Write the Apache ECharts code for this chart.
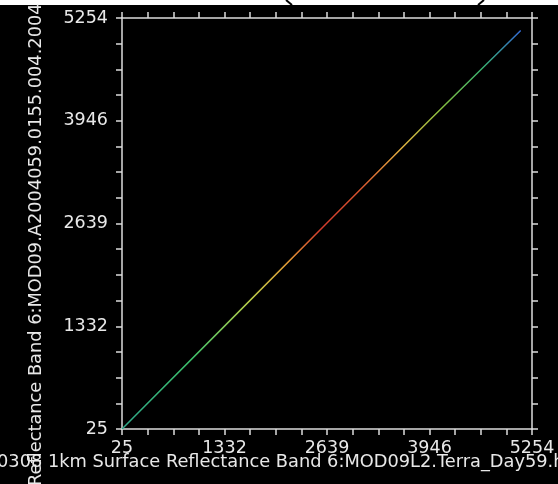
<!DOCTYPE html>
<html>
<head>
<meta charset="utf-8">
<script src="https://cdn.jsdelivr.net/npm/echarts@6/dist/echarts.min.js"></script>
<style>
  html, body { margin: 0; padding: 0; background: #000; }
  #chart { width: 558px; height: 484px; }
</style>
</head>
<body>
<div id="chart"></div>
<script>
// axis ticks (same scale on both axes)
const tickValues = [25, 1332.25, 2639.5, 3946.75, 5254];
const tickLabels = ["25", "1332", "2639", "3946", "5254"];

// scatter of band 6 vs band 6 -> a straight diagonal
const lineX = [25, 1332, 2639, 3946, 5110];
const lineY = [25, 1334, 2645, 3952, 5095];

// colour along the line (density colouring)
const gradStops = [0, 0.18, 0.32, 0.42, 0.5, 0.6, 0.7, 0.8, 0.9, 1];
const gradColors = ["#2fa88c", "#3cbf6a", "#b7cf4a", "#e49a35", "#d23a2c",
                    "#d8552e", "#e0b040", "#86c040", "#38b070", "#3366dd"];

const minorTicks = [];
for (let i = 0; i < tickValues.length - 1; i++) {
    const step = (tickValues[i + 1] - tickValues[i]) / 4;
    for (let k = 0; k < 4; k++) minorTicks.push(tickValues[i] + k * step);
}
minorTicks.push(tickValues[tickValues.length - 1]);

const font = "DejaVu Sans";
const axisColor = "#dcdcdc";

const labelFor = (v) => {
    const i = tickValues.indexOf(v);
    return i >= 0 ? tickLabels[i] : String(Math.floor(v));
};

const makeAxis = (position, showLabel, margin) => ({
    type: "value",
    position,
    min: tickValues[0],
    max: tickValues[tickValues.length - 1],
    splitLine: { show: false },
    axisLine: { show: true, onZero: false, lineStyle: { color: axisColor, width: 1.5 } },
    axisTick: {
        show: true,
        customValues: minorTicks,
        length: 6,
        lineStyle: { color: axisColor, width: 1.5 },
    },
    axisLabel: {
        show: showLabel,
        customValues: tickValues,
        formatter: labelFor,
        color: "#e8e8e8",
        fontFamily: font,
        fontSize: 17.5,
        margin,
    },
});

const myChart = echarts.init(document.getElementById("chart"));

const option = {
    backgroundColor: "#000",
    animation: false,
    grid: { left: 122, right: 26, top: 18, bottom: 55 },
    xAxis: [makeAxis("bottom", true, 10), makeAxis("top", false, 8)],
    yAxis: [makeAxis("left", true, 14), makeAxis("right", false, 8)],
    series: [
        {
            type: "line",
            xAxisIndex: 0,
            yAxisIndex: 0,
            symbol: "none",
            data: lineX.map((x, i) => [x, lineY[i]]),
            lineStyle: {
                width: 1.5,
                color: new echarts.graphic.LinearGradient(
                    0, 1, 1, 0,
                    gradStops.map((s, i) => ({ offset: s, color: gradColors[i] }))
                ),
            },
        },
    ],
    graphic: [
        // white strip and frame edge at the very top
        { type: "rect", shape: { x: 0, y: 0, width: 558, height: 5 }, style: { fill: "#fff" } },
        { type: "line", shape: { x1: 286, y1: 0, x2: 292, y2: 5 }, style: { stroke: "#000", lineWidth: 2 } },
        { type: "line", shape: { x1: 484, y1: 0, x2: 478, y2: 5 }, style: { stroke: "#000", lineWidth: 2 } },
        {
            type: "text",
            x: 36,
            y: 486,
            rotation: Math.PI / 2,
            style: {
                text: "Reflectance Band 6:MOD09.A2004059.0155.004.2004",
                fill: "#e8e8e8",
                font: "17.8px " + font,
                align: "left",
                verticalAlign: "middle",
            },
        },
        {
            type: "text",
            x: -3,
            y: 462,
            style: {
                text: "0308 1km Surface Reflectance Band 6:MOD09L2.Terra_Day59.h",
                fill: "#e8e8e8",
                font: "17.8px " + font,
                align: "left",
                verticalAlign: "middle",
            },
        },
    ],
};

myChart.setOption(option);
window.addEventListener("resize", () => myChart.resize());
</script>
</body>
</html>
